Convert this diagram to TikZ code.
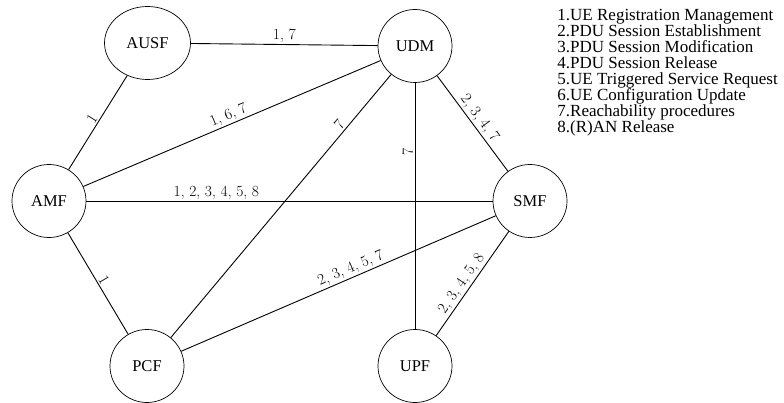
\documentclass[tikz,border=0pt]{standalone}
\usepackage{fontspec}
\usepackage{tikz}
\usetikzlibrary{shapes.geometric}
\newfontfamily\tnr{Liberation Serif}

\begin{document}
\begin{tikzpicture}[x=1pt,y=-1pt,
    nf/.style={draw,ellipse,line width=0.7pt,minimum width=74pt,minimum height=73pt,inner sep=0pt,font=\tnr\fontsize{16.5}{16.5}\selectfont},
    lbl/.style={inner sep=1.5pt,font=\fontsize{15.5}{15.5}\selectfont},
    every path/.style={line width=0.9pt}]
        \useasboundingbox (0,0) rectangle (784,403);
        \node[nf,minimum width=86pt] (AUSF) at (147.5,43) {AUSF};
        \node[nf] (UDM) at (415,46) {UDM};
        \node[nf] (AMF) at (49,201) {AMF};
        \node[nf] (SMF) at (530,201) {SMF};
        \node[nf] (PCF) at (147,366) {PCF};
        \node[nf] (UPF) at (415,366) {UPF};
        \node[anchor=north west,align=left,inner sep=0pt,font=\tnr\fontsize{17}{16.1}\selectfont] (Legend) at (557,8.5) {1.UE Registration Management\\2.PDU Session Establishment\\3.PDU Session Modification\\4.PDU Session Release\\5.UE Triggered Service Request\\6.UE Configuration Update\\7.Reachability procedures\\8.(R)AN Release};
        \draw (AUSF) --node[lbl,sloped,above]{1, 7} (UDM);
        \draw (AUSF) --node[lbl,sloped,above]{1} (AMF);
        \draw (AMF) --node[lbl,sloped,above]{1, 6, 7} (UDM);
        \draw (AMF) --node[lbl,sloped,above,pos=0.32]{1, 2, 3, 4, 5, 8} (SMF);
        \draw (AMF) --node[lbl,sloped,above]{1} (PCF);
        \draw (UDM) --node[lbl,sloped,above,pos=0.21]{7} (PCF);
        \draw (UDM) --node[lbl,rotate=90,anchor=south,pos=0.28]{7} (UPF);
        \draw (UDM) --node[lbl,sloped,above]{2, 3, 4, 7} (SMF);
        \draw (PCF) --node[lbl,sloped,above,pos=0.55]{2, 3, 4, 5, 7} (SMF);
        \draw (SMF) --node[lbl,sloped,above,pos=0.55]{2, 3, 4, 5, 8} (UPF);
    \end{tikzpicture}
\end{document}
